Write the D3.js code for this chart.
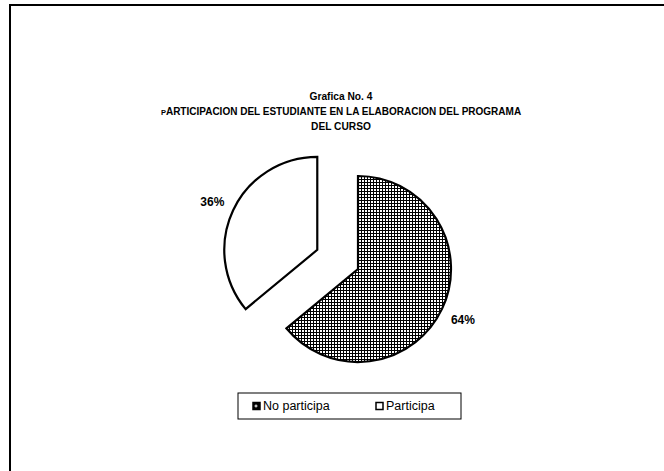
<!DOCTYPE html>
<html>
<head>
<meta charset="utf-8">
<script src="https://cdn.jsdelivr.net/npm/d3@7"></script>
<style>
  html, body { margin: 0; padding: 0; background: #fff; }
  svg { display: block; }
  text { font-family: "Liberation Sans", Arial, sans-serif; }
</style>
</head>
<body>
<svg id="chart" width="664" height="471"></svg>
<script>
// ---- data ----
const categories = ["No participa", "Participa"];
const values = [64, 36];
const valueLabels = ["64%", "36%"];
const titleLine1 = "Grafica No. 4";
const titleLine2First = "P";
const titleLine2Rest = "ARTICIPACION DEL ESTUDIANTE EN LA ELABORACION DEL PROGRAMA";
const titleLine3 = "DEL CURSO";

// ---- layout ----
const W = 664, H = 471;
const cx = 358, cy = 269, R = 93;
const explodeDist = [0, 45];
const labelR = 116;

const svg = d3.select("#chart");

const defs = svg.append("defs");
const pat = defs.append("pattern")
  .attr("id", "grid").attr("patternUnits", "userSpaceOnUse")
  .attr("width", 3).attr("height", 3);
pat.append("rect").attr("width", 3).attr("height", 3).attr("fill", "#fff");
pat.append("rect").attr("x", 0).attr("y", 0).attr("width", 3).attr("height", 1).attr("fill", "#000");
pat.append("rect").attr("x", 0).attr("y", 0).attr("width", 1).attr("height", 3).attr("fill", "#000");

const fills = d3.scaleOrdinal().domain(categories).range(["url(#grid)", "#fff"]);

// outer frame (extends beyond viewport)
svg.append("rect")
  .attr("x", 10).attr("y", 5).attr("width", 800).attr("height", 600)
  .attr("fill", "none").attr("stroke", "#000").attr("stroke-width", 2);

// title
const title = svg.append("g").attr("font-weight", "bold").attr("text-anchor", "middle");
title.append("text").attr("x", 341).attr("y", 100).attr("font-size", 10.2).text(titleLine1);
const t2 = title.append("text").attr("x", 341).attr("y", 115).attr("font-size", 10);
t2.append("tspan").attr("font-size", 7.5).text(titleLine2First);
t2.append("tspan").text(titleLine2Rest);
title.append("text").attr("x", 341).attr("y", 130).attr("font-size", 10.2).text(titleLine3);

// pie
const pie = d3.pie().sort(null).value(d => d)(values);
const arc = d3.arc().innerRadius(0).outerRadius(R);
const labelArc = d3.arc().innerRadius(labelR).outerRadius(labelR);

const g = svg.append("g").attr("transform", `translate(${cx},${cy})`);
pie.forEach((d, i) => {
  const mid = (d.startAngle + d.endAngle) / 2;
  const dx = Math.sin(mid) * explodeDist[i];
  const dy = -Math.cos(mid) * explodeDist[i];
  const sg = g.append("g").attr("transform", `translate(${dx},${dy})`);
  sg.append("path").attr("d", arc(d))
    .attr("fill", fills(categories[i]))
    .attr("stroke", "#000").attr("stroke-width", 2.2).attr("stroke-linejoin", "miter");
  const c = labelArc.centroid(d);
  sg.append("text")
    .attr("x", c[0]).attr("y", c[1] + 2)
    .attr("text-anchor", "middle").attr("dominant-baseline", "central")
    .attr("font-size", 12).attr("font-weight", "bold")
    .text(valueLabels[i]);
});

// legend
const legX = 238, legY = 393, legW = 223, legH = 26;
const leg = svg.append("g");
leg.append("rect").attr("x", legX).attr("y", legY).attr("width", legW).attr("height", legH)
  .attr("fill", "#fff").attr("stroke", "#000").attr("stroke-width", 1);
const legItemX = d3.scaleOrdinal().domain(categories).range([253, 376]);
categories.forEach((c) => {
  const x = legItemX(c);
  leg.append("rect").attr("x", x).attr("y", legY + 9.5).attr("width", 7).attr("height", 7)
    .attr("fill", c === categories[0] ? "#000" : "#fff")
    .attr("stroke", "#000").attr("stroke-width", 1.5);
  if (c === categories[0]) {
    leg.append("rect").attr("x", x + 2.5).attr("y", legY + 11.5).attr("width", 1).attr("height", 3).attr("fill", "#fff");
    leg.append("rect").attr("x", x + 1.5).attr("y", legY + 12.5).attr("width", 3).attr("height", 1).attr("fill", "#fff");
  }
  leg.append("text").attr("x", x + 10).attr("y", legY + 13).attr("dominant-baseline", "central")
    .attr("font-size", 12.5).text(c);
});
</script>
</body>
</html>
